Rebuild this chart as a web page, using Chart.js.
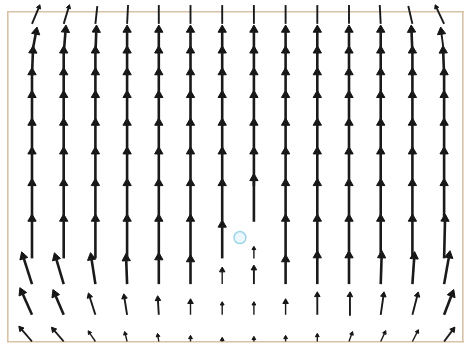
<!DOCTYPE html>
<html>
<head>
<meta charset="utf-8">
<script src="https://cdn.jsdelivr.net/npm/chart.js@4/dist/chart.umd.min.js"></script>
<style>
html,body{margin:0;padding:0;background:#fff;}
#wrap{width:471px;height:349px;}
</style>
</head>
<body>
<div id="wrap"><canvas id="c" width="471" height="349"></canvas></div>
<script>
// Grid columns (x positions, arbitrary units) and row anchor heights (y, arbitrary units)
const COLUMNS = [0,1,2,3,4,5,6,7,8,9,10,11,12,13];
const ROW_Y = [321,291,269,246,218,189,157,121,84,58,27,0];

// Horizontal components (x units) per row
const U_ROWS = [
  [0.22,0.16,0.06,0.03,0,0,0,0,0,0,0,-0.03,-0.13,-0.25],
  [0.13,0.06,0.03,0,0,0,0,0,0,0,0,0,-0.03,-0.09],
  [0.03,0,0,0,0,0,0,0,0,0,0,0,0,-0.03],
  [0,0,0,0,0,0,0,0,0,0,0,0,0,0],
  [0,0,0,0,0,0,0,0,0,0,0,0,0,0],
  [0,0,0,0,0,0,0,0,0,0,0,0,0,0],
  [0,0,0,0,0,0,0,0,0,0,0,0,0,0],
  [0,0,0,0,0,0,0,0,0,0,0,0,0,0],
  [0,0,0,0,0,0,0,0,0,0,0,0,0,0.03],
  [-0.28,-0.25,-0.13,-0.03,0,0,0,0,0,0,0,0.03,0.06,0.16],
  [-0.32,-0.28,-0.19,-0.09,-0.03,0,0,0,0,0,0.03,0.09,0.16,0.25],
  [-0.35,-0.32,-0.19,-0.06,-0.03,0,0,0,0,0,0.09,0.13,0.16,0.28]
];
// Vertical components (y units) per row
const V_ROWS = [
  [17,17,18,19,19,19,19,19,19,19,19,19,18,17],
  [22,24,24,24,24,24,24,24,24,24,24,24,24,22],
  [25,25,25,25,25,25,25,25,25,25,25,25,25,25],
  [26,26,26,26,26,26,26,26,26,26,26,26,26,26],
  [31,31,31,31,31,31,31,31,31,31,31,31,31,31],
  [32,32,32,32,32,32,32,32,32,32,32,32,32,32],
  [35,35,35,35,35,35,35,35,35,35,35,35,35,35],
  [39,39,39,39,39,39,39,44,39,39,39,39,39,39],
  [40,40,40,40,40,40,34,10,40,40,40,40,40,40],
  [28,27,27,26,27,25,14,16,25,29,29,29,28,29],
  [23,21,19,18,16,13,11,11,13,20,20,20,20,21],
  [13,12,9,8,6,4,2,3,4,6,8,9,10,12]
];
// Marked point (cyan ring)
const MARKER = [{x:6.56, y:105}];

const shafts = [];
const heads = [];
for (let r = 0; r < ROW_Y.length; r++) {
  for (let c = 0; c < COLUMNS.length; c++) {
    const u = U_ROWS[r][c], v = V_ROWS[r][c];
    const x0 = COLUMNS[c], y0 = ROW_Y[r];
    const x1 = x0 + u, y1 = y0 + v;
    shafts.push({x:x0, y:y0}, {x:x1, y:y1}, {x:x1, y:null});
    heads.push({x:x1, y:y1, u:u, v:v, row:r});
  }
}

function pxVec(chart, raw) {
  const xs = chart.scales.x, ys = chart.scales.y;
  const dx = xs.getPixelForValue(raw.x) - xs.getPixelForValue(raw.x - raw.u);
  const dy = ys.getPixelForValue(raw.y - raw.v) - ys.getPixelForValue(raw.y);
  return {dx, dy};
}

const frameColor = '#d9c1a6';
const hiddenAxis = (pos) => ({
  type:'linear', position:pos, display:true,
  grid:{display:false, drawTicks:false},
  ticks:{display:false},
  border:{display:true, color:frameColor, width:1.6}
});

new Chart(document.getElementById('c'), {
  type:'scatter',
  data:{
    datasets:[
      {
        type:'line',
        data:shafts,
        showLine:true,
        spanGaps:false,
        borderColor:'#1a1a1a',
        borderWidth:2,
        pointRadius:0,
        clip:false,
        segment:{
          borderWidth:(ctx)=>{
            const L = Math.hypot(ctx.p1.x-ctx.p0.x, ctx.p1.y-ctx.p0.y);
            return L > 22 ? 2.6 : (L > 14 ? 1.9 : 1.4);
          }
        }
      },
      {
        data:heads,
        pointStyle:'triangle',
        backgroundColor:'#141414',
        borderColor:'#141414',
        borderWidth:1,
        clip:false,
        pointRadius:(ctx)=>{
          const raw = ctx.raw; if(!raw) return 3;
          const L = Math.hypot(raw.v, raw.u*31.7);
          if (raw.row === 0) return 2.5;
          return L >= 22 ? 4.8 : (L >= 12 ? 3.2 : 2.2);
        },
        pointRotation:(ctx)=>{
          const raw = ctx.raw; if(!raw) return 0;
          const p = pxVec(ctx.chart, raw);
          return Math.atan2(p.dx, p.dy) * 180 / Math.PI;
        }
      },
      {
        data:MARKER,
        pointStyle:'circle',
        pointRadius:6,
        borderWidth:1.5,
        borderColor:'#9fd6ea',
        backgroundColor:'rgba(200,235,248,0.35)'
      }
    ]
  },
  options:{
    responsive:false,
    animation:false,
    devicePixelRatio:1,
    layout:{padding:{left:8, top:12, right:8, bottom:4}},
    plugins:{legend:{display:false}, tooltip:{enabled:false}},
    scales:{
      x:Object.assign(hiddenAxis('bottom'), {min:-0.757, max:13.596}),
      y:Object.assign(hiddenAxis('left'), {min:0, max:333}),
      x2:Object.assign(hiddenAxis('top'), {min:0, max:1}),
      y2:Object.assign(hiddenAxis('right'), {min:0, max:1})
    }
  }
});
</script>
</body>
</html>
